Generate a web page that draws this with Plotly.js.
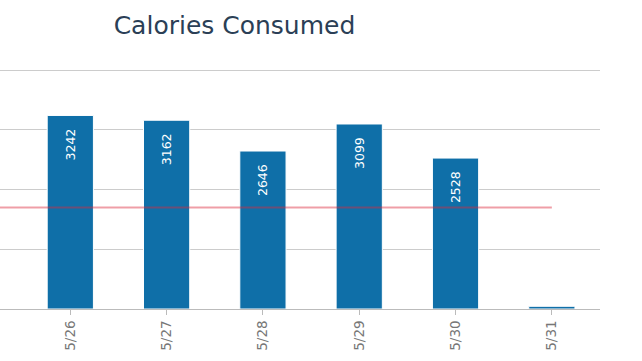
<!DOCTYPE html>
<html>
<head>
<meta charset="utf-8">
<script src="https://cdn.plot.ly/plotly-3.0.1.min.js"></script>
<style>
  html, body { margin: 0; padding: 0; background: #fff; }
  #chart { width: 642px; height: 361px; }
</style>
</head>
<body>
<div id="chart"></div>
<script>
// Data
const dates = ["5/26", "5/27", "5/28", "5/29", "5/30", "5/31"];
const calories = [3242, 3162, 2646, 3099, 2528, 45];
const targetCalories = 1700;
const chartTitle = "Calories Consumed";

// labels only for bars tall enough to hold them; padded so they sit below the bar top
const labels = calories.map(v => (v >= 500 ? String(v) + "\u00a0\u2002" : ""));

const trace = {
  type: "bar",
  x: dates,
  y: calories,
  width: 0.48,
  text: labels,
  textposition: "inside",
  insidetextanchor: "end",
  textangle: -90,
  insidetextfont: { family: "DejaVu Sans", size: 12.5, color: "#ffffff" },
  marker: { color: "#0f6fa8", line: { color: "#ffffff", width: 1 } },
  hoverinfo: "none"
};

const layout = {
  width: 642,
  height: 361,
  margin: { l: 0, r: 42, t: 69, b: 52, pad: 0 },
  paper_bgcolor: "#ffffff",
  plot_bgcolor: "#ffffff",
  showlegend: false,
  title: {
    text: chartTitle,
    x: 234.5 / 642,
    xref: "container",
    xanchor: "center",
    y: 1 - 25 / 361,
    yref: "container",
    yanchor: "middle",
    font: { family: "DejaVu Sans, sans-serif", size: 25, color: "#2b3f56" }
  },
  xaxis: {
    type: "category",
    range: [-0.73, 5.5],
    showgrid: false,
    showline: true,
    linecolor: "#bbbbbb",
    linewidth: 1,
    ticks: "outside",
    ticklen: 5,
    tickcolor: "#bbbbbb",
    tickangle: -90,
    tickfont: { family: "DejaVu Sans", size: 13.5, color: "#777777" },
    fixedrange: true
  },
  yaxis: {
    range: [0, 4020],
    showgrid: true,
    gridcolor: "#cccccc",
    gridwidth: 1,
    dtick: 1000,
    tick0: 0,
    zeroline: false,
    showticklabels: false,
    fixedrange: true
  },
  shapes: [{
    type: "line",
    xref: "x",
    yref: "y",
    x0: -0.73,
    x1: dates.length - 1,
    y0: targetCalories,
    y1: targetCalories,
    layer: "above",
    line: { color: "rgba(220,40,60,0.45)", width: 2 }
  }]
};

Plotly.newPlot("chart", [trace], layout, { staticPlot: true, displayModeBar: false });
</script>
</body>
</html>
